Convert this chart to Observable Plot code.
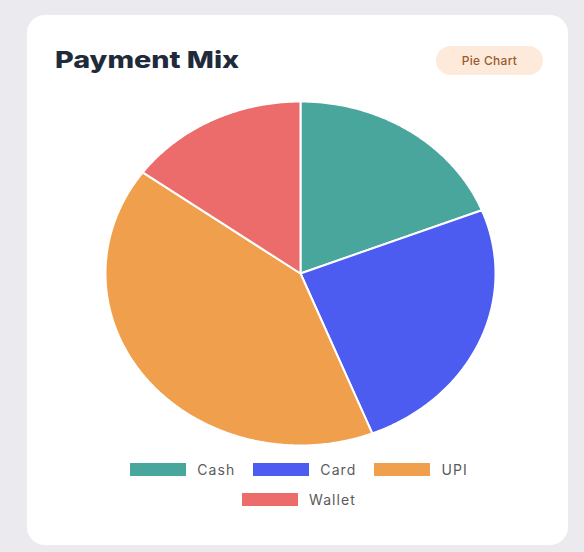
<!DOCTYPE html>
<html>
<head>
<meta charset="utf-8">
<script src="https://cdn.jsdelivr.net/npm/d3@7"></script>
<script src="https://cdn.jsdelivr.net/npm/@observablehq/plot@0.6"></script>
<style>
  html, body { margin: 0; padding: 0; }
  body { width: 584px; height: 552px; background: #ebebef; position: relative; overflow: hidden; font-family: Inter, "Open Sans", sans-serif; }
  #card { position: absolute; left: 27px; top: 15px; width: 541px; height: 530px; background: #fff; border-radius: 18px; }
  #title { position: absolute; left: 55px; top: 46px; font-size: 23px; font-weight: 800; color: #1f2a3a; transform: scaleX(1.25); transform-origin: left top; white-space: nowrap; }
  #badge { position: absolute; left: 436px; top: 46px; width: 107px; height: 29px; border-radius: 15px; background: #fdeadb; color: #9b5a2c; font-size: 12px; font-weight: 500; text-align: center; line-height: 29px; letter-spacing: 0.3px; }
  #chart { position: absolute; left: 104px; top: 100px; }
  #legend { position: absolute; left: 99px; width: 400px; top: 459px; display: flex; flex-wrap: wrap; justify-content: center; row-gap: 9px; }
  .item { display: flex; align-items: center; margin: 0 9px; font-size: 14px; letter-spacing: 1.1px; color: #5a5a5a; height: 21px; }
  .sw { width: 56px; height: 13px; margin-right: 11px; }
</style>
</head>
<body>
<div id="card"></div>
<div id="title">Payment Mix</div>
<div id="badge">Pie Chart</div>
<div id="chart"></div>
<div id="legend"></div>
<script>
const categories = ["Cash", "Card", "UPI", "Wallet"];
const values = [19, 25, 41, 15];
const colors = ["#48a69d", "#4c5cf0", "#f0a04c", "#ec6b6b"];

const arcs = d3.pie().sort(null)(values);
const points = [];
arcs.forEach((a, i) => {
  const name = categories[i];
  points.push({name, x: 0, y: 0});
  const n = Math.max(8, Math.ceil((a.endAngle - a.startAngle) / 0.01));
  for (let k = 0; k <= n; k++) {
    const t = a.startAngle + (a.endAngle - a.startAngle) * k / n;
    points.push({name, x: Math.sin(t), y: Math.cos(t)});
  }
});

const chart = Plot.plot({
  width: 392,
  height: 346,
  margin: 0,
  x: {domain: [-1, 1], range: [1, 391], axis: null},
  y: {domain: [-1, 1], range: [345, 1], axis: null},
  color: {domain: categories, range: colors},
  marks: [
    Plot.line(points, {x: "x", y: "y", z: "name", fill: "name", stroke: "white", strokeWidth: 2, curve: "linear-closed", strokeLinejoin: "round"})
  ]
});
document.getElementById("chart").appendChild(chart);

const legend = document.getElementById("legend");
categories.forEach((c, i) => {
  const it = document.createElement("div");
  it.className = "item";
  const sw = document.createElement("div");
  sw.className = "sw";
  sw.style.background = colors[i];
  it.appendChild(sw);
  it.appendChild(document.createTextNode(c));
  legend.appendChild(it);
});
</script>
</body>
</html>
